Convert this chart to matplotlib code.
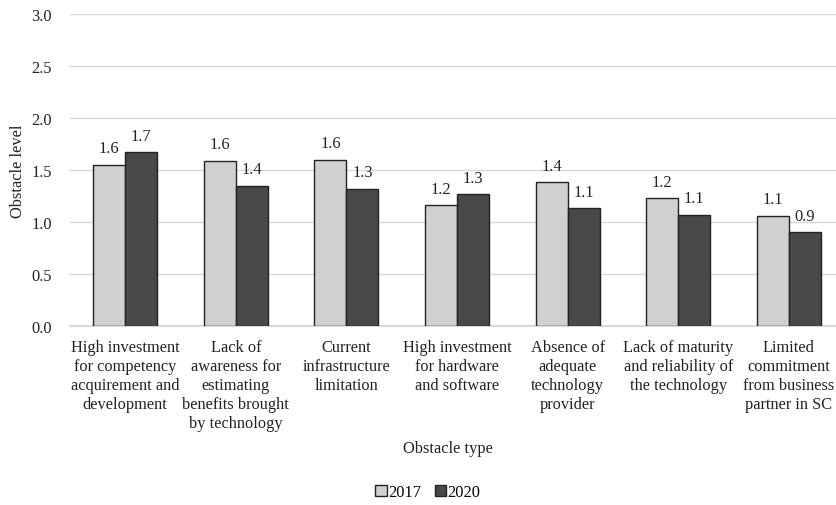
import matplotlib
matplotlib.use("Agg")
import matplotlib.pyplot as plt
import numpy as np

categories = [
    "High investment\nfor competency\nacquirement and\ndevelopment",
    "Lack of\nawareness for\nestimating\nbenefits brought\nby technology",
    "Current\ninfrastructure\nlimitation",
    "High investment\nfor hardware\nand software",
    "Absence of\nadequate\ntechnology\nprovider",
    "Lack of maturity\nand reliability of\nthe technology",
    "Limited\ncommitment\nfrom business\npartner in SC",
]
values_2017 = [1.55, 1.59, 1.60, 1.16, 1.38, 1.23, 1.06]
values_2020 = [1.67, 1.35, 1.32, 1.27, 1.13, 1.07, 0.90]
series_names = ["2017", "2020"]
yticks = [0.0, 0.5, 1.0, 1.5, 2.0, 2.5, 3.0]

plt.rcParams['font.family'] = ['Liberation Serif', 'DejaVu Serif']
fs = 11.8
plt.rcParams['font.size'] = fs

fig = plt.figure(figsize=(8.37, 5.06), dpi=100)
ax = fig.add_axes([70/837, 1-327/506, 774/837, 312/506])

x = np.arange(len(categories))
w = 0.29
c17 = "#D0D0D2"
c20 = "#48494B"
ec = "#222222"
b1 = ax.bar(x - w/2, values_2017, w, color=c17, edgecolor=ec, linewidth=1.0, label=series_names[0], zorder=3)
b2 = ax.bar(x + w/2, values_2020, w, color=c20, edgecolor=ec, linewidth=1.0, label=series_names[1], zorder=3)

for bars in (b1, b2):
    for rect in bars:
        h = rect.get_height()
        ax.annotate(f"{h:.1f}", (rect.get_x() + rect.get_width()/2, h),
                    xytext=(0, 6), textcoords="offset points",
                    ha="center", va="bottom", fontsize=fs, color="#222222")

ax.set_ylim(0, 3.0)
ax.set_xlim(-0.5, len(categories) - 0.5)
ax.set_yticks(yticks)
ax.set_yticklabels([f"{t:.1f}" for t in yticks])
ax.set_xticks(x)
ax.set_xticklabels(categories, linespacing=1.26)
for t in ax.get_xticklabels():
    t.set_multialignment("center")
ax.tick_params(axis="both", length=0, colors="#222222", labelsize=fs)
ax.tick_params(axis="x", pad=9)
ax.tick_params(axis="y", pad=13)
ax.yaxis.grid(True, color="#D9D9D9", linewidth=1.0, zorder=0)
ax.set_axisbelow(True)
for s in ["top", "right", "left"]:
    ax.spines[s].set_visible(False)
ax.spines["bottom"].set_color("#D9D9D9")
ax.spines["bottom"].set_linewidth(1.5)

ax.set_ylabel("Obstacle level", fontsize=fs, color="#222222", labelpad=4)
fig.text(448/837, 1-449/506, "Obstacle type", ha="center", va="center", fontsize=fs, color="#222222")

leg = fig.legend(handles=[b1, b2], labels=series_names, loc="center", bbox_to_anchor=(428/837, 1-493/506),
                 ncol=2, frameon=False, handlelength=0.7, handleheight=0.7, handletextpad=0.1,
                 columnspacing=0.8, fontsize=fs)

fig.savefig("out.png", dpi=100)
